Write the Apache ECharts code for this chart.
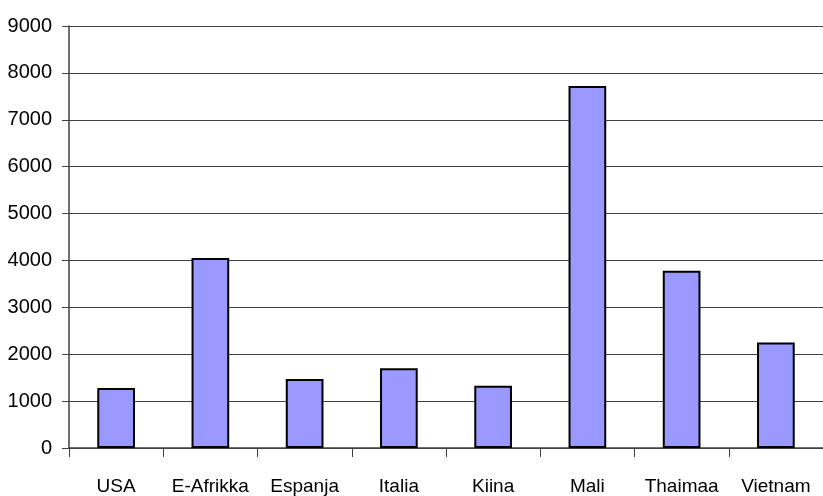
<!DOCTYPE html>
<html>
<head>
<meta charset="utf-8">
<style>html,body{margin:0;padding:0;background:#fff;}#c{width:823px;height:496px;}</style>
<script src="https://cdn.jsdelivr.net/npm/echarts@6/dist/echarts.min.js"></script>
</head>
<body>
<div id="c"></div>
<script>
const categories = ["USA", "E-Afrikka", "Espanja", "Italia", "Kiina", "Mali", "Thaimaa", "Vietnam"];
const values = [1280, 4050, 1470, 1700, 1330, 7720, 3780, 2250];

const FONT = "'Liberation Sans', Arial, sans-serif";
const chart = echarts.init(document.getElementById('c'), null, {renderer: 'canvas'});
chart.setOption({
  animation: false,
  backgroundColor: '#ffffff',
  grid: {left: 69, right: -9, top: 26, bottom: 48, containLabel: false},
  xAxis: {
    type: 'category',
    data: categories,
    boundaryGap: true,
    axisLine: {show: true, lineStyle: {color: '#404040', width: 1.5}},
    axisTick: {show: true, interval: 0, alignWithLabel: false, length: 9, inside: false, lineStyle: {color: '#404040', width: 1}},
    axisLabel: {color: '#000', fontFamily: FONT, fontSize: 19, margin: 29, interval: 0},
    splitLine: {show: false}
  },
  yAxis: {
    type: 'value',
    min: 0, max: 9000, interval: 1000,
    axisLine: {show: true, lineStyle: {color: '#404040', width: 1.5}},
    axisTick: {show: true, length: 7, lineStyle: {color: '#404040', width: 1}},
    axisLabel: {color: '#000', fontFamily: FONT, fontSize: 20, margin: 17, formatter: function (v) { return String(v); }},
    splitLine: {show: true, lineStyle: {color: '#404040', width: 1}}
  },
  series: [{
    type: 'bar',
    data: values,
    barWidth: '40%',
    itemStyle: {color: '#9999ff', borderColor: '#000', borderWidth: 2}
  }]
});
</script>
</body>
</html>
